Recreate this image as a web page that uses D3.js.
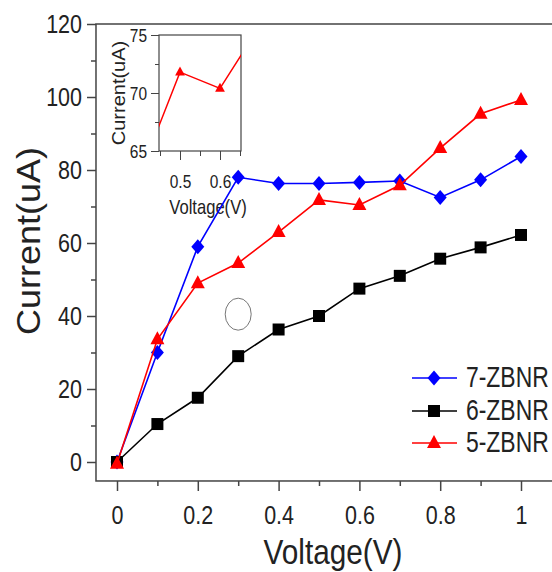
<!DOCTYPE html>
<meta charset="utf-8" />
<style>
    body { margin: 0; background: #fff; }
    text { font-family: "Liberation Sans", Arial, sans-serif; fill: #222; }
</style>
<script src="https://d3js.org/d3.v7.min.js"></script>
<div id="my_dataviz"></div>
<script>

    // data
    const voltage = [0, 0.1, 0.2, 0.3, 0.4, 0.5, 0.6, 0.7, 0.8, 0.9, 1.0];
    const zbnr7 = [0, 30, 59, 78, 76.3, 76.3, 76.6, 77, 72.5, 77.3, 83.7];
    const zbnr6 = [0, 10.4, 17.6, 29, 36.3, 40, 47.5, 51, 55.7, 58.8, 62.2];
    const zbnr5 = [-0.5, 33.6, 49, 54.5, 63, 71.8, 70.4, 75.8, 86, 95.4, 99.2];

    const yTicks = [0, 20, 40, 60, 80, 100, 120];
    const yMinor = [10, 30, 50, 70, 90, 110];
    const xTicks = [0, 0.2, 0.4, 0.6, 0.8, 1];
    const xMinor = [0.1, 0.3, 0.5, 0.7, 0.9];
    const insetYTicks = [65, 70, 75];
    const insetYMinor = [67.5, 72.5];
    const insetXTicks = [0.5, 0.6];
    const insetXMinor = [0.45, 0.55, 0.65];

    const series = [
        { name: "7-ZBNR", values: zbnr7, color: "#0000ff", marker: "diamond" },
        { name: "6-ZBNR", values: zbnr6, color: "#000000", marker: "square" },
        { name: "5-ZBNR", values: zbnr5, color: "#ff0000", marker: "triangle" }
    ];

    const width = 552, height = 572;
    const frameColor = "#444";

    const svg = d3.select("#my_dataviz")
        .append("svg")
        .attr("width", width)
        .attr("height", height);

    const x = d3.scaleLinear().domain([0, 1]).range([117, 521]);
    const y = d3.scaleLinear().domain([0, 120]).range([462, 24]);
    const xMin = -0.052, xMax = 1.11, yMin = -5.2, yMax = 120;

    function markerPath(type, k) {
        k = k || 1;
        if (type == "diamond") return `M0,${-7.5 * k}L${6.5 * k},0L0,${7.5 * k}L${-6.5 * k},0Z`;
        if (type == "square") return `M${-6 * k},${-6 * k}h${12 * k}v${12 * k}h${-12 * k}Z`;
        return `M0,${-8 * k}L${7 * k},${5 * k}L${-7 * k},${5 * k}Z`;
    }

    // frame
    svg.append("rect")
        .attr("x", x(xMin))
        .attr("y", y(yMax))
        .attr("width", x(xMax) - x(xMin))
        .attr("height", y(yMin) - y(yMax))
        .attr("fill", "none")
        .attr("stroke", frameColor)
        .attr("stroke-width", 1.5);

    // left axis
    const yAxis = svg.append("g").attr("transform", `translate(${x(xMin)},0)`);
    yAxis.append("g")
        .call(d3.axisLeft(y).tickValues(yTicks).tickSize(9).tickSizeOuter(0).tickFormat(d3.format("d")))
        .call(g => g.select(".domain").remove())
        .call(g => g.selectAll("line").attr("stroke", frameColor).attr("stroke-width", 1.5))
        .call(g => g.selectAll("text")
            .attr("x", null).attr("dy", "0.35em")
            .attr("transform", "translate(-14,0) scale(0.86,1)")
            .style("font-size", "25px").attr("fill", "#222")
            .attr("font-family", null));
    yAxis.append("g")
        .call(d3.axisLeft(y).tickValues(yMinor).tickSize(5).tickFormat(""))
        .call(g => g.select(".domain").remove())
        .call(g => g.selectAll("line").attr("stroke", frameColor).attr("stroke-width", 1.5));

    // bottom axis
    const xAxis = svg.append("g").attr("transform", `translate(0,${y(yMin)})`);
    xAxis.append("g")
        .call(d3.axisBottom(x).tickValues(xTicks).tickSize(10).tickFormat(d3.format("~g")))
        .call(g => g.select(".domain").remove())
        .call(g => g.selectAll("line").attr("stroke", frameColor).attr("stroke-width", 1.5))
        .call(g => g.selectAll("text")
            .attr("y", null).attr("dy", null)
            .attr("transform", "translate(0,43) scale(0.86,1)")
            .style("font-size", "25px").attr("fill", "#222")
            .attr("font-family", null));
    xAxis.append("g")
        .call(d3.axisBottom(x).tickValues(xMinor).tickSize(5).tickFormat(""))
        .call(g => g.select(".domain").remove())
        .call(g => g.selectAll("line").attr("stroke", frameColor).attr("stroke-width", 1.5));

    // axis titles
    svg.append("text")
        .attr("text-anchor", "middle")
        .attr("transform", "translate(333,564) scale(0.85,1)")
        .style("font-size", "35px")
        .text("Voltage(V)");
    svg.append("text")
        .attr("text-anchor", "middle")
        .attr("transform", "translate(40,241) scale(0.9,1) rotate(-90)")
        .style("font-size", "36px")
        .text("Current(uA)");

    // stray circle in the figure
    svg.append("ellipse")
        .attr("cx", x(0.3))
        .attr("cy", y(40.5))
        .attr("rx", 13)
        .attr("ry", 16)
        .attr("fill", "none")
        .attr("stroke", "#777")
        .attr("stroke-width", 1);

    // ---- inset ----
    const xi = d3.scaleLinear().domain([0.4475, 0.6525]).range([159, 241]);
    const yi = d3.scaleLinear().domain([65, 75]).range([151, 35]);

    const inset = svg.append("g");
    inset.append("clipPath").attr("id", "insetClip")
        .append("rect")
        .attr("x", xi.range()[0]).attr("y", yi.range()[1])
        .attr("width", xi.range()[1] - xi.range()[0])
        .attr("height", yi.range()[0] - yi.range()[1]);

    inset.append("g")
        .attr("transform", `translate(${xi.range()[0]},0)`)
        .call(d3.axisLeft(yi).tickValues(insetYTicks).tickSize(8).tickFormat(d3.format("d")))
        .call(g => g.select(".domain").remove())
        .call(g => g.selectAll("line").attr("stroke", frameColor))
        .call(g => g.selectAll("text")
            .attr("x", null).attr("dy", "0.35em")
            .attr("transform", "translate(-12,0) scale(0.86,1)")
            .style("font-size", "18px").attr("fill", "#222")
            .attr("font-family", null));
    inset.append("g")
        .attr("transform", `translate(${xi.range()[0]},0)`)
        .call(d3.axisLeft(yi).tickValues(insetYMinor).tickSize(4).tickFormat(""))
        .call(g => g.select(".domain").remove())
        .call(g => g.selectAll("line").attr("stroke", frameColor));
    inset.append("g")
        .attr("transform", `translate(0,${yi.range()[0]})`)
        .call(d3.axisBottom(xi).tickValues(insetXTicks).tickSize(9).tickFormat(d3.format("~g")))
        .call(g => g.select(".domain").remove())
        .call(g => g.selectAll("line").attr("stroke", frameColor))
        .call(g => g.selectAll("text")
            .attr("y", null).attr("dy", null)
            .attr("transform", "translate(0,37) scale(0.86,1)")
            .style("font-size", "18px").attr("fill", "#222")
            .attr("font-family", null));
    inset.append("g")
        .attr("transform", `translate(0,${yi.range()[0]})`)
        .call(d3.axisBottom(xi).tickValues(insetXMinor).tickSize(5).tickFormat(""))
        .call(g => g.select(".domain").remove())
        .call(g => g.selectAll("line").attr("stroke", frameColor));

    inset.append("rect")
        .attr("x", xi.range()[0]).attr("y", yi.range()[1])
        .attr("width", xi.range()[1] - xi.range()[0])
        .attr("height", yi.range()[0] - yi.range()[1])
        .attr("fill", "none")
        .attr("stroke", frameColor)
        .attr("stroke-width", 1.2);

    const insetPlot = inset.append("g").attr("clip-path", "url(#insetClip)");
    insetPlot.append("path")
        .datum(zbnr5)
        .attr("fill", "none")
        .attr("stroke", "#ff0000")
        .attr("stroke-width", 1.5)
        .attr("d", d3.line().x((d, i) => xi(voltage[i])).y(d => yi(d)));
    insetPlot.selectAll(".im")
        .data(zbnr5)
        .join("path")
        .attr("class", "im")
        .attr("transform", (d, i) => `translate(${xi(voltage[i])},${yi(d)})`)
        .attr("d", markerPath("triangle", 0.7))
        .attr("fill", "#ff0000");

    inset.append("text")
        .attr("text-anchor", "middle")
        .attr("transform", "translate(208,214) scale(0.83,1)")
        .style("font-size", "20px")
        .text("Voltage(V)");
    inset.append("text")
        .attr("text-anchor", "middle")
        .attr("transform", `translate(125,${(yi.range()[0] + yi.range()[1]) / 2}) scale(0.9,1) rotate(-90)`)
        .style("font-size", "20px")
        .text("Current(uA)");

    // ---- main series ----
    const line = d3.line().x((d, i) => x(voltage[i])).y(d => y(d));

    series.forEach(s => {
        const g = svg.append("g");
        g.append("path")
            .datum(s.values)
            .attr("fill", "none")
            .attr("stroke", s.color)
            .attr("stroke-width", 1.6)
            .attr("d", line);
        g.selectAll("path.m")
            .data(s.values)
            .join("path")
            .attr("class", "m")
            .attr("transform", (d, i) => `translate(${x(voltage[i])},${y(d)})`)
            .attr("d", markerPath(s.marker))
            .attr("fill", s.color);
    });

    // ---- legend ----
    const legendY = [378, 411, 443];
    series.forEach((s, i) => {
        const g = svg.append("g").attr("transform", `translate(0,${legendY[i]})`);
        g.append("line")
            .attr("x1", 412).attr("x2", 457)
            .attr("stroke", s.color).attr("stroke-width", 1.6);
        g.append("path")
            .attr("transform", "translate(434,0)")
            .attr("d", markerPath(s.marker))
            .attr("fill", s.color);
        g.append("text")
            .attr("transform", "translate(466,9) scale(0.79,1)")
            .style("font-size", "29px")
            .text(s.name);
    });

</script>
